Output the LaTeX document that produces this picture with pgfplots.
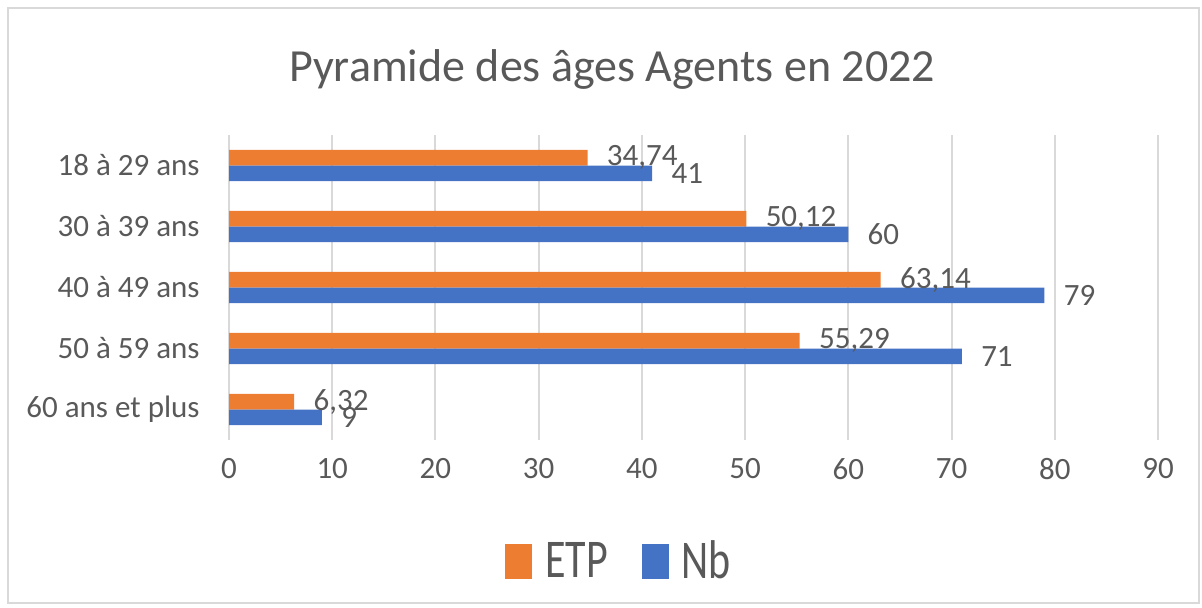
\documentclass[border=0pt]{standalone}
\usepackage{pgfplots}
\pgfplotsset{compat=1.18}
\usepackage{fontspec}
\setmainfont{Carlito}
\definecolor{etp}{HTML}{ED7D31}
\definecolor{nb}{HTML}{4472C4}
\definecolor{txt}{HTML}{595959}
\definecolor{gridc}{HTML}{D9D9D9}

% categories: 0 = 60 ans et plus ... 4 = 18 a 29 ans
\pgfplotstableread{
y etp nb
0 6.32 9
1 55.29 71
2 63.14 79
3 50.12 60
4 34.74 41
}\agedata

\begin{document}
\begin{tikzpicture}[x=1pt,y=1pt]
\path (0,0) rectangle (601,303.5);
\draw[gridc, line width=0.8pt] (4,2) rectangle (599.5,299.5);
\node[anchor=base, font=\fontsize{23}{27}\selectfont, text=txt] at (306,263) {Pyramide des âges Agents en 2022};
\begin{axis}[
    at={(114.5pt,83.5pt)}, anchor=south west,
    scale only axis, width=464.5pt, height=152.5pt,
    xbar, bar width=7.85pt,
    xmin=0, xmax=90, ymin=-0.5, ymax=4.5,
    xtick={0,10,...,90},
    ytick={0,1,2,3,4},
    yticklabels={60 ans et plus, 50 à 59 ans, 40 à 49 ans, 30 à 39 ans, 18 à 29 ans},
    axis line style={draw=none},
    major tick length=0pt,
    xmajorgrids, grid style={gridc, line width=1pt},
    /pgf/number format/.cd, use comma, assume math mode=true, /pgfplots/.cd,
    tick label style={text=txt, font=\fontsize{15.5}{18}\selectfont},
    xticklabel style={yshift=-5.5pt},
    yticklabel style={inner sep=0pt, xshift=-14.5pt},
    nodes near coords,
    every node near coord/.append style={anchor=west, inner sep=0pt, xshift=9.5pt, text=txt, font=\fontsize{15.5}{18}\selectfont},
    legend columns=2,
    legend style={at={(0.4188,-0.3967)}, anchor=center, draw=none, fill=none,
        font=\fontsize{21}{24}\selectfont, text=txt,
        nodes={inner xsep=0pt, inner ysep=0pt},
        /tikz/every odd column/.append style={column sep=6.5pt},
        /tikz/every even column/.append style={column sep=17pt}},
    legend image code/.code={\fill[#1] (0pt,-8.75pt) rectangle (13.5pt,8.75pt);},
]
\addplot[fill=etp, draw=none, bar shift=3.925pt] table[x=etp, y=y] {\agedata};
\addlegendentry{\scalebox{1}[1.3]{ETP}}
\addplot[fill=nb, draw=none, bar shift=-3.925pt] table[x=nb, y=y] {\agedata};
\addlegendentry{\scalebox{1}[1.3]{Nb}}
\end{axis}
\end{tikzpicture}
\end{document}
